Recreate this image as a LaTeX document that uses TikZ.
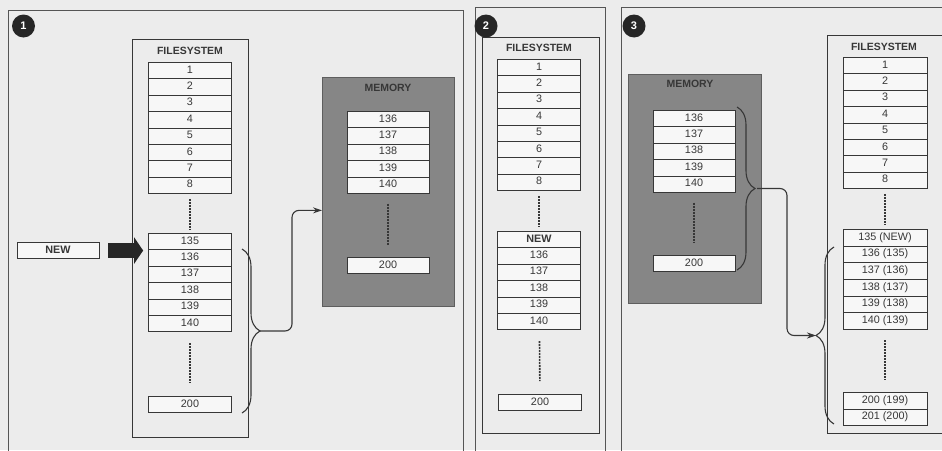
\documentclass[tikz,border=0pt]{standalone}
\usepackage{fontspec}
\setmainfont{Liberation Sans}
\usetikzlibrary{arrows.meta,positioning,shapes.multipart,decorations.pathreplacing}
\definecolor{paperGrey}{RGB}{236,236,236}
\definecolor{inkGrey}{RGB}{55,55,55}
\definecolor{memoryGrey}{RGB}{134,134,134}
\definecolor{cellWhite}{RGB}{247,247,247}
\newcommand{\slotstrut}{\rule[-2.6pt]{0pt}{10.2pt}}

\begin{document}
\begin{tikzpicture}[
  x=1pt, y=-1pt,
  panel/.style={draw=inkGrey!85, line width=0.8pt},
  fsbox/.style={
    draw=inkGrey,
    line width=0.7pt,
    anchor=north west,
    inner sep=0pt
  },
  membox/.style={fsbox, fill=memoryGrey, draw=memoryGrey!70!black},
  title/.style={font=\bfseries\fontsize{10.5}{12}\selectfont, text=inkGrey},
  slots/.style={
    rectangle split,
    draw=inkGrey,
    fill=cellWhite,
    line width=0.7pt,
    anchor=north,
    minimum width=83pt,
    inner ysep=2.75pt,
    font=\fontsize{10.8}{12}\selectfont,
    text=inkGrey
  },
  dots/.style={inkGrey, line width=1.6pt, dash pattern=on 2pt off 1pt},
  curly/.style={inkGrey, line width=1.1pt, decorate, decoration={brace, amplitude=18pt}},
  link/.style={-{Stealth[length=9pt,width=6pt]}, inkGrey, line width=1.1pt, rounded corners=7pt},
  bigarrow/.style={-{Triangle[length=9pt,width=26pt]}, line width=15pt, black!85},
  numdot/.style={
    circle,
    fill=black!85,
    text=white,
    font=\bfseries\fontsize{11}{12}\selectfont,
    minimum size=23pt,
    inner sep=0pt
  }
]
  \fill[paperGrey] (0,0) rectangle (942,450);
  \useasboundingbox (0,0) rectangle (942,450);

  % step 1
  \draw[panel] (8,10) rectangle (463,455);
  \node[numdot] (stepA) at (23.5,26) {1};
  \node[fsbox, minimum width=116pt, minimum height=398pt] (fsA) at (132,39) {};
  \node[title] (fsAtitle) at (190,51) {FILESYSTEM};
  \node[slots, rectangle split parts=8] (fsAtop) at (190,62)
    {\slotstrut 1\nodepart{two}\slotstrut 2\nodepart{three}\slotstrut 3\nodepart{four}\slotstrut 4\nodepart{five}\slotstrut 5\nodepart{six}\slotstrut 6\nodepart{seven}\slotstrut 7\nodepart{eight}\slotstrut 8};
  \node[slots, rectangle split parts=6] (fsAmid) at (190,233)
    {\slotstrut 135\nodepart{two}\slotstrut 136\nodepart{three}\slotstrut 137\nodepart{four}\slotstrut 138\nodepart{five}\slotstrut 139\nodepart{six}\slotstrut 140};
  \node[slots, rectangle split parts=1] (fsAend) at (190,396) {\slotstrut 200};
  \draw[dots, shorten <=5pt, shorten >=4pt] (fsAtop) -- (fsAmid);
  \draw[dots, shorten <=11pt, shorten >=13pt] (fsAmid) -- (fsAend);

  \node[slots, rectangle split parts=1, minimum width=82pt] (newA) at (58,242) {\slotstrut\bfseries NEW};
  \draw[bigarrow, shorten <=9pt, shorten >=5pt] (newA.east) -- (newA.east -| fsAmid.west);

  \node[membox, minimum width=132pt, minimum height=229pt] (memA) at (322,77) {};
  \node[title] (memAtitle) at (388,88) {MEMORY};
  \node[slots, rectangle split parts=5, minimum width=82pt] (memAtop) at (388,111)
    {\slotstrut 136\nodepart{two}\slotstrut 137\nodepart{three}\slotstrut 138\nodepart{four}\slotstrut 139\nodepart{five}\slotstrut 140};
  \node[slots, rectangle split parts=1, minimum width=82pt] (memAend) at (388,257) {\slotstrut 200};
  \draw[dots, shorten <=10pt, shorten >=12pt] (memAtop) -- (memAend);

  \draw[curly] (242,249) -- (242,413);
  \coordinate (tipA) at (260,331);
  \draw[link] (tipA) -- ++(32,0) |- ([yshift=-18.5pt]memA.west);

  % step 2
  \draw[panel] (475,7) rectangle (605,455);
  \node[fsbox, minimum width=117pt, minimum height=396pt] (fsB) at (482,37) {};
  \node[numdot] (stepB) at (486,26) {2};
  \node[title] (fsBtitle) at (539,48) {FILESYSTEM};
  \node[slots, rectangle split parts=8] (fsBtop) at (539,59)
    {\slotstrut 1\nodepart{two}\slotstrut 2\nodepart{three}\slotstrut 3\nodepart{four}\slotstrut 4\nodepart{five}\slotstrut 5\nodepart{six}\slotstrut 6\nodepart{seven}\slotstrut 7\nodepart{eight}\slotstrut 8};
  \node[slots, rectangle split parts=6] (fsBmid) at (539,231)
    {\slotstrut\bfseries NEW\nodepart{two}\slotstrut 136\nodepart{three}\slotstrut 137\nodepart{four}\slotstrut 138\nodepart{five}\slotstrut 139\nodepart{six}\slotstrut 140};
  \node[slots, rectangle split parts=1] (fsBend) at (540,394) {\slotstrut 200};
  \draw[dots, shorten <=5pt, shorten >=4pt] (fsBtop) -- (fsBmid);
  \draw[dots, shorten <=11pt, shorten >=13pt] (fsBmid) -- (fsBend);

  % step 3
  \draw[panel] (621,7) rectangle (950,455);
  \node[numdot] (stepC) at (634,26) {3};
  \node[membox, minimum width=133pt, minimum height=229pt] (memC) at (628,74) {};
  \node[title] (memCtitle) at (690,84) {MEMORY};
  \node[slots, rectangle split parts=5, minimum width=82pt] (memCtop) at (694,110)
    {\slotstrut 136\nodepart{two}\slotstrut 137\nodepart{three}\slotstrut 138\nodepart{four}\slotstrut 139\nodepart{five}\slotstrut 140};
  \node[slots, rectangle split parts=1, minimum width=82pt] (memCend) at (694,255) {\slotstrut 200};
  \draw[dots, shorten <=10pt, shorten >=12pt] (memCtop) -- (memCend);

  \node[fsbox, minimum width=118pt, minimum height=398pt] (fsC) at (827,35) {};
  \node[title] (fsCtitle) at (884,47) {FILESYSTEM};
  \node[slots, rectangle split parts=8, minimum width=84pt] (fsCtop) at (885,57)
    {\slotstrut 1\nodepart{two}\slotstrut 2\nodepart{three}\slotstrut 3\nodepart{four}\slotstrut 4\nodepart{five}\slotstrut 5\nodepart{six}\slotstrut 6\nodepart{seven}\slotstrut 7\nodepart{eight}\slotstrut 8};
  \node[slots, rectangle split parts=6, minimum width=84pt] (fsCmid) at (885,229)
    {\slotstrut 135 (NEW)\nodepart{two}\slotstrut 136 (135)\nodepart{three}\slotstrut 137 (136)\nodepart{four}\slotstrut 138 (137)\nodepart{five}\slotstrut 139 (138)\nodepart{six}\slotstrut 140 (139)};
  \node[slots, rectangle split parts=2, minimum width=84pt] (fsCend) at (885,392)
    {\slotstrut 200 (199)\nodepart{two}\slotstrut 201 (200)};
  \draw[dots, shorten <=5pt, shorten >=4pt] (fsCtop) -- (fsCmid);
  \draw[dots, shorten <=11pt, shorten >=12pt] (fsCmid) -- (fsCend);

  \draw[curly] (737,107) -- (737,270);
  \coordinate (tipC) at (757,188.5);
  \draw[curly] (834,424) -- (834,247);
  \coordinate (tipD) at (816,335.5);
  \draw[link] (tipC) -- ++(30,0) |- (tipD);
\end{tikzpicture}
\end{document}
